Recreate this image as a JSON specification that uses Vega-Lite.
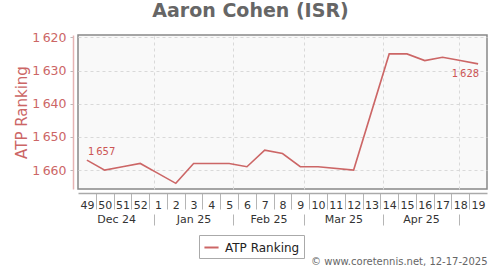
{
  "$schema": "https://vega.github.io/schema/vega-lite/v6.json",
  "width": 409,
  "height": 154,
  "autosize": {"type": "none"},
  "padding": {"left": 78, "top": 35, "right": 13, "bottom": 81},
  "background": "white",
  "title": {
    "text": "Aaron Cohen (ISR)",
    "font": "DejaVu Sans",
    "fontSize": 19,
    "fontWeight": "bold",
    "color": "#666666",
    "anchor": "middle",
    "frame": "group",
    "dx": -32,
    "offset": 10
  },
  "config": {
    "font": "DejaVu Sans",
    "view": {"fill": "#f9f9f9", "stroke": "#888888", "strokeWidth": 1.5},
    "locale": {"number": {"decimal": ".", "thousands": "\u2009", "grouping": [3], "currency": ["", ""]}}
  },
  "data": {
    "values": [
      {"week": 49, "date": "2024-12-05T12:00:00Z", "rank": 1657},
      {"week": 50, "date": "2024-12-12T12:00:00Z", "rank": 1660},
      {"week": 51, "date": "2024-12-19T12:00:00Z", "rank": 1659},
      {"week": 52, "date": "2024-12-26T12:00:00Z", "rank": 1658},
      {"week": 1, "date": "2025-01-02T12:00:00Z", "rank": 1661},
      {"week": 2, "date": "2025-01-09T12:00:00Z", "rank": 1664},
      {"week": 3, "date": "2025-01-16T12:00:00Z", "rank": 1658},
      {"week": 4, "date": "2025-01-23T12:00:00Z", "rank": 1658},
      {"week": 5, "date": "2025-01-30T12:00:00Z", "rank": 1658},
      {"week": 6, "date": "2025-02-06T12:00:00Z", "rank": 1659},
      {"week": 7, "date": "2025-02-13T12:00:00Z", "rank": 1654},
      {"week": 8, "date": "2025-02-20T12:00:00Z", "rank": 1655},
      {"week": 9, "date": "2025-02-27T12:00:00Z", "rank": 1659},
      {"week": 10, "date": "2025-03-06T12:00:00Z", "rank": 1659},
      {"week": 12, "date": "2025-03-20T12:00:00Z", "rank": 1660},
      {"week": 14, "date": "2025-04-03T12:00:00Z", "rank": 1625},
      {"week": 15, "date": "2025-04-10T12:00:00Z", "rank": 1625},
      {"week": 16, "date": "2025-04-17T12:00:00Z", "rank": 1627},
      {"week": 17, "date": "2025-04-24T12:00:00Z", "rank": 1626},
      {"week": 18, "date": "2025-05-01T12:00:00Z", "rank": 1627},
      {"week": 19, "date": "2025-05-08T12:00:00Z", "rank": 1628}
    ]
  },
  "layer": [
    {
      "mark": {"type": "point", "opacity": 0},
      "encoding": {
        "x": {
          "field": "date", "type": "temporal",
          "scale": {"type": "utc", "domain": [{"year": 2024, "month": 12, "date": 2, "utc": true}, {"year": 2025, "month": 5, "date": 12, "utc": true}]},
          "axis": {
            "orient": "bottom",
            "values": [
              {"year": 2025, "month": 1, "date": 1, "utc": true},
              {"year": 2025, "month": 2, "date": 1, "utc": true},
              {"year": 2025, "month": 3, "date": 1, "utc": true},
              {"year": 2025, "month": 4, "date": 1, "utc": true},
              {"year": 2025, "month": 5, "date": 1, "utc": true}
            ],
            "grid": true, "gridDash": [3, 3], "gridColor": "#d9d9d9", "gridWidth": 1,
            "domain": false, "ticks": false, "labels": false, "title": null
          }
        }
      }
    },
    {
      "mark": {"type": "line", "strokeWidth": 1.6},
      "encoding": {
        "x": {
          "field": "date", "type": "temporal",
          "scale": {"type": "utc", "domain": [{"year": 2024, "month": 12, "date": 2, "utc": true}, {"year": 2025, "month": 5, "date": 12, "utc": true}]},
          "axis": {
            "orient": "bottom",
            "values": [
              {"year": 2024, "month": 12, "date": 9, "utc": true},
              {"year": 2024, "month": 12, "date": 16, "utc": true},
              {"year": 2024, "month": 12, "date": 23, "utc": true},
              {"year": 2024, "month": 12, "date": 30, "utc": true},
              {"year": 2025, "month": 1, "date": 6, "utc": true},
              {"year": 2025, "month": 1, "date": 13, "utc": true},
              {"year": 2025, "month": 1, "date": 20, "utc": true},
              {"year": 2025, "month": 1, "date": 27, "utc": true},
              {"year": 2025, "month": 2, "date": 3, "utc": true},
              {"year": 2025, "month": 2, "date": 10, "utc": true},
              {"year": 2025, "month": 2, "date": 17, "utc": true},
              {"year": 2025, "month": 2, "date": 24, "utc": true},
              {"year": 2025, "month": 3, "date": 3, "utc": true},
              {"year": 2025, "month": 3, "date": 10, "utc": true},
              {"year": 2025, "month": 3, "date": 17, "utc": true},
              {"year": 2025, "month": 3, "date": 24, "utc": true},
              {"year": 2025, "month": 3, "date": 31, "utc": true},
              {"year": 2025, "month": 4, "date": 7, "utc": true},
              {"year": 2025, "month": 4, "date": 14, "utc": true},
              {"year": 2025, "month": 4, "date": 21, "utc": true},
              {"year": 2025, "month": 4, "date": 28, "utc": true},
              {"year": 2025, "month": 5, "date": 5, "utc": true}
            ],
            "labels": false,
            "tickSize": 16,
            "tickColor": "#b5b5b5",
            "domainColor": "#aaaaaa",
            "domainWidth": 1.5,
            "offset": 4,
            "grid": false,
            "title": null
          }
        },
        "y": {
          "field": "rank", "type": "quantitative",
          "scale": {"domain": [1619.3, 1665.7], "reverse": true, "nice": false, "zero": false},
          "axis": {
            "values": [1620, 1630, 1640, 1650, 1660],
            "format": ",.0f",
            "title": "ATP Ranking",
            "titleColor": "#cc6666",
            "titleFontSize": 15,
            "titleFontWeight": "normal",
            "titlePadding": 2,
            "labelColor": "#cc6666",
            "labelFontSize": 12.5,
            "labelPadding": 4,
            "domainColor": "#e6b3b3",
            "domainWidth": 1.5,
            "tickColor": "#bbbbbb",
            "tickSize": 3,
            "offset": 5,
            "grid": true,
            "gridDash": [3, 3],
            "gridColor": "#d9d9d9"
          }
        },
        "color": {
          "datum": "ATP Ranking", "type": "nominal",
          "scale": {"range": ["#cc6666"]},
          "legend": {
            "title": null,
            "orient": "none",
            "legendX": 121,
            "legendY": 200,
            "symbolType": "stroke",
            "symbolStrokeWidth": 2,
            "symbolSize": 200,
            "labelFontSize": 12,
            "labelColor": "#222222",
            "labelOffset": 5,
            "strokeColor": "#aaaaaa",
            "padding": 4
          }
        }
      }
    },
    {
      "transform": [{"filter": "datum.week == 49"}],
      "mark": {"type": "text", "align": "left", "baseline": "alphabetic", "dx": 1, "dy": -5, "fontSize": 10, "color": "#cc5555"},
      "encoding": {
        "x": {
          "field": "date", "type": "temporal",
          "scale": {"type": "utc", "domain": [{"year": 2024, "month": 12, "date": 2, "utc": true}, {"year": 2025, "month": 5, "date": 12, "utc": true}]},
          "axis": null
        },
        "y": {
          "field": "rank", "type": "quantitative",
          "scale": {"domain": [1619.3, 1665.7], "reverse": true, "nice": false, "zero": false},
          "axis": null
        },
        "text": {"field": "rank", "type": "quantitative", "format": ","}
      }
    },
    {
      "transform": [{"filter": "datum.week == 19"}],
      "mark": {"type": "text", "align": "right", "baseline": "alphabetic", "dx": 1, "dy": 13, "fontSize": 10, "color": "#cc5555"},
      "encoding": {
        "x": {
          "field": "date", "type": "temporal",
          "scale": {"type": "utc", "domain": [{"year": 2024, "month": 12, "date": 2, "utc": true}, {"year": 2025, "month": 5, "date": 12, "utc": true}]},
          "axis": null
        },
        "y": {
          "field": "rank", "type": "quantitative",
          "scale": {"domain": [1619.3, 1665.7], "reverse": true, "nice": false, "zero": false},
          "axis": null
        },
        "text": {"field": "rank", "type": "quantitative", "format": ","}
      }
    },
    {
      "mark": {"type": "point", "opacity": 0},
      "encoding": {
        "x": {
          "field": "date", "type": "temporal",
          "scale": {"type": "utc", "domain": [{"year": 2024, "month": 12, "date": 2, "utc": true}, {"year": 2025, "month": 5, "date": 12, "utc": true}]},
          "axis": {
            "orient": "bottom",
            "values": [
              {"year": 2024, "month": 12, "date": 5, "hours": 12, "utc": true},
              {"year": 2024, "month": 12, "date": 12, "hours": 12, "utc": true},
              {"year": 2024, "month": 12, "date": 19, "hours": 12, "utc": true},
              {"year": 2024, "month": 12, "date": 26, "hours": 12, "utc": true},
              {"year": 2025, "month": 1, "date": 2, "hours": 12, "utc": true},
              {"year": 2025, "month": 1, "date": 9, "hours": 12, "utc": true},
              {"year": 2025, "month": 1, "date": 16, "hours": 12, "utc": true},
              {"year": 2025, "month": 1, "date": 23, "hours": 12, "utc": true},
              {"year": 2025, "month": 1, "date": 30, "hours": 12, "utc": true},
              {"year": 2025, "month": 2, "date": 6, "hours": 12, "utc": true},
              {"year": 2025, "month": 2, "date": 13, "hours": 12, "utc": true},
              {"year": 2025, "month": 2, "date": 20, "hours": 12, "utc": true},
              {"year": 2025, "month": 2, "date": 27, "hours": 12, "utc": true},
              {"year": 2025, "month": 3, "date": 6, "hours": 12, "utc": true},
              {"year": 2025, "month": 3, "date": 13, "hours": 12, "utc": true},
              {"year": 2025, "month": 3, "date": 20, "hours": 12, "utc": true},
              {"year": 2025, "month": 3, "date": 27, "hours": 12, "utc": true},
              {"year": 2025, "month": 4, "date": 3, "hours": 12, "utc": true},
              {"year": 2025, "month": 4, "date": 10, "hours": 12, "utc": true},
              {"year": 2025, "month": 4, "date": 17, "hours": 12, "utc": true},
              {"year": 2025, "month": 4, "date": 24, "hours": 12, "utc": true},
              {"year": 2025, "month": 5, "date": 1, "hours": 12, "utc": true},
              {"year": 2025, "month": 5, "date": 8, "hours": 12, "utc": true}
            ],
            "labelExpr": "utcFormat(datum.value, '%-V')",
            "labelFontSize": 11,
            "labelColor": "#333333",
            "labelFlush": false,
            "labelOverlap": false,
            "labelPadding": 0,
            "domain": false, "ticks": false, "grid": false,
            "offset": 10,
            "title": null
          }
        }
      }
    },
    {
      "mark": {"type": "point", "opacity": 0},
      "encoding": {
        "x": {
          "field": "date", "type": "temporal",
          "scale": {"type": "utc", "domain": [{"year": 2024, "month": 12, "date": 2, "utc": true}, {"year": 2025, "month": 5, "date": 12, "utc": true}]},
          "axis": {
            "orient": "bottom",
            "values": [
              {"year": 2024, "month": 12, "date": 17, "utc": true},
              {"year": 2025, "month": 1, "date": 16, "hours": 12, "utc": true},
              {"year": 2025, "month": 2, "date": 15, "utc": true},
              {"year": 2025, "month": 3, "date": 16, "hours": 12, "utc": true},
              {"year": 2025, "month": 4, "date": 16, "utc": true}
            ],
            "labelExpr": "utcFormat(datum.value, '%b %y')",
            "labelFontSize": 11,
            "labelColor": "#333333",
            "labelFlush": false,
            "labelOverlap": false,
            "labelPadding": 0,
            "domain": false, "ticks": false, "grid": false,
            "offset": 24,
            "title": null
          }
        }
      }
    },
    {
      "mark": {"type": "point", "opacity": 0},
      "encoding": {
        "x": {
          "field": "date", "type": "temporal",
          "scale": {"type": "utc", "domain": [{"year": 2024, "month": 12, "date": 2, "utc": true}, {"year": 2025, "month": 5, "date": 12, "utc": true}]},
          "axis": {
            "orient": "bottom",
            "values": [
              {"year": 2025, "month": 1, "date": 1, "utc": true},
              {"year": 2025, "month": 2, "date": 1, "utc": true},
              {"year": 2025, "month": 3, "date": 1, "utc": true},
              {"year": 2025, "month": 4, "date": 1, "utc": true},
              {"year": 2025, "month": 5, "date": 1, "utc": true}
            ],
            "labels": false,
            "domain": false,
            "grid": false,
            "tickSize": 11,
            "tickColor": "#b5b5b5",
            "offset": 25,
            "title": "\u00a9 www.coretennis.net, 12-17-2025",
            "titleAnchor": "end",
            "titleAlign": "right",
            "titleFontSize": 10,
            "titleFontWeight": "normal",
            "titleColor": "#666666",
            "titlePadding": 31
          }
        }
      }
    }
  ],
  "resolve": {"scale": {"x": "independent", "y": "independent"}}
}
